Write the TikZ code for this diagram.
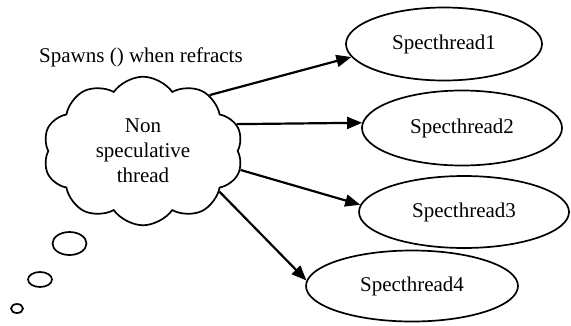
\documentclass[tikz,border=0pt]{standalone}
\usepackage{fontspec}
\setmainfont{Liberation Serif}
\newfontfamily\timesfont{Liberation Serif}
\usetikzlibrary{arrows.meta,shapes.geometric,shapes.symbols}

\begin{document}
\begin{tikzpicture}[x=1pt,y=-1pt,
        every node/.style={font=\timesfont\fontsize{21}{25}\selectfont},
        spec/.style={draw,ellipse,line width=1.7pt,inner sep=0pt,minimum height=73pt},
        spawn/.style={line width=2.2pt,-{Triangle[length=15pt,width=12pt]}}]
            \useasboundingbox (0,0) rectangle (571,325);

            \node[draw,cloud,cloud puffs=10,cloud puff arc=110,line width=1.7pt,
                  minimum width=200pt,minimum height=143pt,align=center,inner sep=0pt]
                (nt) at (143,151) {Non\\speculative\\thread};

            \node[spec,minimum width=196pt] (s1) at (444,44) {Specthread1};
            \node[spec,minimum width=200pt,minimum height=75pt] (s2) at (462,128) {Specthread2};
            \node[spec,minimum width=210pt,minimum height=72pt] (s3) at (464,212) {Specthread3};
            \node[spec,minimum width=212pt,minimum height=71pt] (s4) at (412,286) {Specthread4};

            \node at (141,57) {Spawns () when refracts};

            \draw[spawn] (nt.40) -- (s1.188);
            \draw[spawn] (nt.16) -- (s2.177);
            \draw[spawn] (nt.-11) -- (s3.176);
            \draw[spawn] (nt.-28) -- (s4.177);

            \draw[line width=1.7pt] (69.5,243.5) ellipse (17 and 11.5);
            \draw[line width=1.7pt] (40,279.5) ellipse (12 and 7.5);
            \draw[line width=1.7pt] (17,308.5) ellipse (6 and 4.5);
        \end{tikzpicture}
\end{document}
